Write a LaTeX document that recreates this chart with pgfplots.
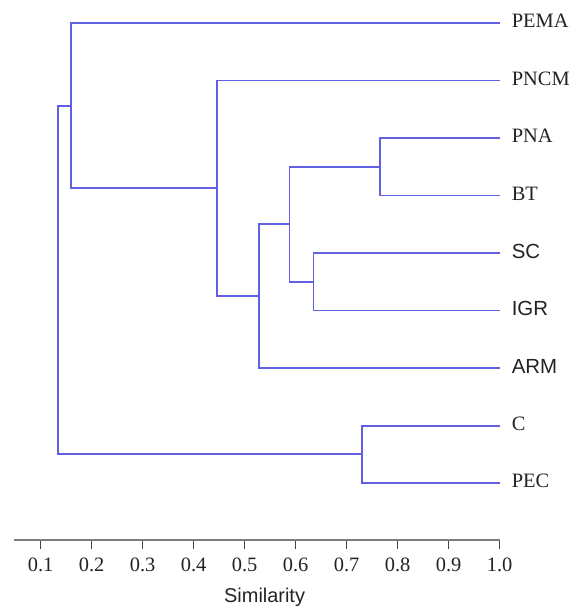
\documentclass[border=0pt]{standalone}
\usepackage{pgfplots}
\pgfplotsset{compat=1.18}
\usepackage{fontspec}
\setmainfont{Liberation Serif}
\setsansfont{Liberation Sans}
\definecolor{dendro}{RGB}{96,96,224}
\definecolor{axisgray}{RGB}{125,125,125}
\definecolor{labelgray}{RGB}{35,35,35}

\begin{document}
\begin{tikzpicture}
\useasboundingbox (-13.6bp,-69bp) rectangle (560.4bp,540bp);
\begin{axis}[
  scale only axis, width=486bp, height=540bp,
  xmin=0.047, xmax=1.0, ymin=-0.4, ymax=8.99, y dir=reverse,
  axis y line=none, axis x line*=bottom,
  x axis line style={axisgray, line width=1.8bp},
  xtick={0.1,0.2,0.3,0.4,0.5,0.6,0.7,0.8,0.9,1.0},
  xticklabels={0.1,0.2,0.3,0.4,0.5,0.6,0.7,0.8,0.9,1.0},
  tick align=outside, major tick length=9bp,
  xtick style={black!75, line width=1bp},
  xticklabel style={font=\fontsize{20.5}{24}\selectfont, text=labelgray, yshift=-5bp},
  xlabel={Similarity},
  xlabel style={font=\sffamily\fontsize{20}{24}\selectfont, text=labelgray,
    xshift=8bp, yshift=-10bp},
  clip=false,
  branch/.style={dendro, line width=1.9bp, mark=none, solid},
  leaf/.style={draw=none, mark=none, nodes near coords, point meta=explicit symbolic,
    nodes near coords style={anchor=west, inner sep=0pt, xshift=12bp, yshift=2bp,
      text=labelgray, font=#1\fontsize{20.5}{24}\selectfont}},
]
% PNA / BT
\addplot[branch] coordinates {(1,2) (0.766,2) (0.766,3) (1,3)};
% SC / IGR
\addplot[branch] coordinates {(1,4) (0.635,4) (0.635,5) (1,5)};
% (PNA,BT) + (SC,IGR)
\addplot[branch] coordinates {(0.766,2.5) (0.588,2.5) (0.588,4.5) (0.635,4.5)};
% + ARM
\addplot[branch] coordinates {(0.588,3.5) (0.529,3.5) (0.529,6) (1,6)};
% PNCM + rest
\addplot[branch] coordinates {(1,1) (0.446,1) (0.446,4.75) (0.529,4.75)};
% PEMA + rest
\addplot[branch] coordinates {(1,0) (0.159,0) (0.159,2.875) (0.446,2.875)};
% C / PEC
\addplot[branch] coordinates {(1,7) (0.730,7) (0.730,8) (1,8)};
% root
\addplot[branch] coordinates {(0.159,1.4375) (0.134,1.4375) (0.134,7.5) (0.730,7.5)};
% leaf labels
\addplot[leaf={\rmfamily}]
  coordinates {(1,0) [PEMA] (1,1) [PNCM] (1,2) [PNA] (1,3) [BT] (1,7) [C] (1,8) [PEC]};
\addplot[leaf={\sffamily}]
  coordinates {(1,4) [SC] (1,5) [IGR] (1,6) [ARM]};
\end{axis}
\end{tikzpicture}
\end{document}
